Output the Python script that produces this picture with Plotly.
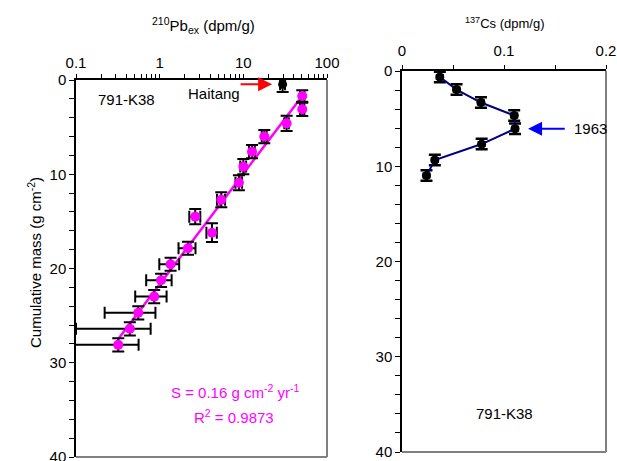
import numpy as np
import plotly.graph_objects as go

W, H = 617, 461

# ---- 210Pb excess data (core 791-K38) ----
pb_mass = [1.70, 3.11, 4.60, 6.00, 7.60, 9.19, 10.9, 12.7, 14.5, 16.2, 17.85,
           19.55, 21.25, 22.98, 24.7, 26.4, 28.1]
pb_act = [50.6, 50.6, 32.9, 17.8, 12.7, 10.0, 8.85, 5.45, 2.66, 4.22, 2.18,
          1.35, 1.04, 0.86, 0.555, 0.44, 0.32]
pb_act_err = [3.0, 3.0, 2.0, 1.2, 1.0, 0.8, 0.8, 0.6, 0.4, 0.6, 0.5,
              0.36, 0.35, 0.35, 0.335, 0.34, 0.24]
pb_mass_err = [0.6, 0.7, 0.8, 0.7, 0.7, 0.8, 0.8, 0.8, 0.8, 1.0, 0.7,
               0.7, 0.7, 0.7, 0.7, 0.7, 0.7]

# Haitang (surface) point
ht_mass = [0.46]
ht_act = [29.5]
ht_act_err = [2.0]
ht_mass_err = [0.8]

# ---- 137Cs data ----
cs_mass = [0.63, 1.95, 3.31, 4.67, 6.06, 7.67, 9.34, 10.98]
cs_act = [0.0371, 0.0535, 0.0774, 0.110, 0.1108, 0.0781, 0.0322, 0.024]
cs_act_err = [0.003, 0.003, 0.003, 0.003, 0.003, 0.003, 0.003, 0.003]
cs_mass_err = [0.55, 0.55, 0.55, 0.55, 0.55, 0.55, 0.55, 0.55]

pb_ticks = [0.1, 1, 10, 100]
depth_ticks = [0, 10, 20, 30, 40]
cs_ticks = [0, 0.1, 0.2]

MAG = "#FF00FF"
FONT = "Liberation Sans, Arial, sans-serif"
FS = 15

# regression of mass on log10(activity)
coef = np.polyfit(np.log10(pb_act), pb_mass, 1)
fit_x = np.logspace(np.log10(min(pb_act)), np.log10(max(pb_act)), 50)
fit_y = np.polyval(coef, np.log10(fit_x))

fig = go.Figure()

fig.add_trace(go.Scatter(x=fit_x, y=fit_y, mode="lines",
                         line=dict(color=MAG, width=2.5),
                         xaxis="x", yaxis="y", showlegend=False))
fig.add_trace(go.Scatter(
    x=pb_act, y=pb_mass, mode="markers",
    marker=dict(color=MAG, size=10),
    error_x=dict(type="data", array=pb_act_err, color="black", thickness=2, width=6),
    error_y=dict(type="data", array=pb_mass_err, color="black", thickness=2, width=6),
    xaxis="x", yaxis="y", showlegend=False))
fig.add_trace(go.Scatter(
    x=ht_act, y=ht_mass, mode="markers",
    marker=dict(color="black", size=9),
    error_x=dict(type="data", array=ht_act_err, color="black", thickness=2, width=6),
    error_y=dict(type="data", array=ht_mass_err, color="black", thickness=2, width=6),
    xaxis="x", yaxis="y", showlegend=False))
fig.add_trace(go.Scatter(
    x=cs_act, y=cs_mass, mode="lines+markers",
    line=dict(color="#00007F", width=2),
    marker=dict(color="black", size=9),
    error_x=dict(type="data", array=cs_act_err, color="black", thickness=2, width=3),
    error_y=dict(type="data", array=cs_mass_err, color="black", thickness=2.5, width=6),
    xaxis="x2", yaxis="y2", showlegend=False))

def px(xp):
    return xp / W
def py(yp):
    return 1 - yp / H

L1, R1, T1, B1 = 76, 327, 80, 457
L2, R2, T2, B2 = 402, 606, 71, 452

minor_log = [m * 10 ** e for e in range(-1, 2) for m in range(2, 10)]
dep_minor = [v for v in range(0, 41, 2) if v not in depth_ticks]
cs_minor = [0.05, 0.15]

axis_common = dict(showline=True, linecolor="black", linewidth=1.5, ticks="outside",
                   tickcolor="black", tickwidth=1.2, showgrid=False, zeroline=False,
                   automargin=False, ticklabeloverflow="allow",
                   tickfont=dict(family=FONT, size=FS, color="black"))

fig.update_layout(
    width=W, height=H, margin=dict(l=0, r=0, t=0, b=0, pad=0),
    paper_bgcolor="white", plot_bgcolor="white",
    font=dict(family=FONT, color="black"),
    xaxis=dict(domain=[px(L1), px(R1)], type="log", range=[-1, 2], side="top",
               anchor="y", tickvals=pb_ticks, ticktext=["0.1", "1", "10", "100"], ticklen=4,
               minor=dict(tickvals=minor_log, ticks="outside", ticklen=4, tickcolor="black",
                          tickwidth=1.2, showgrid=False),
               **axis_common),
    yaxis=dict(domain=[py(B1), py(T1)], range=[40, 0], anchor="x",
               tickvals=depth_ticks, ticklen=5,
               minor=dict(tickvals=dep_minor, ticks="outside", ticklen=5, tickcolor="black",
                          tickwidth=1.2, showgrid=False),
               **axis_common),
    xaxis2=dict(domain=[px(L2), px(R2)], range=[0, 0.2], side="top", anchor="y2",
                tickvals=cs_ticks, ticktext=["0", "0.1", "0.2"], ticklen=4,
                ticklabelstandoff=3,
                minor=dict(tickvals=cs_minor, ticks="outside", ticklen=4, tickcolor="black",
                           tickwidth=1.2, showgrid=False),
                **axis_common),
    yaxis2=dict(domain=[py(B2), py(T2)], range=[40, 0], anchor="x2",
                tickvals=depth_ticks, ticklen=5,
                minor=dict(tickvals=dep_minor, ticks="outside", ticklen=5, tickcolor="black",
                           tickwidth=1.2, showgrid=False),
                **axis_common),
)

for xr, yr in (("x", "y"), ("x2", "y2")):
    fig.add_shape(type="line", xref=xr + " domain", yref=yr + " domain",
                  x0=1, x1=1, y0=0, y1=1, line=dict(color="#808080", width=2))
    fig.add_shape(type="line", xref=xr + " domain", yref=yr + " domain",
                  x0=0, x1=1, y0=0, y1=0, line=dict(color="#808080", width=2))

C = dict(xanchor="center", yanchor="middle", showarrow=False)
ann = []
ann.append(dict(xref="paper", yref="paper", x=px(203), y=py(25),
                text="<sup>210</sup>Pb<sub>ex</sub> (dpm/g)",
                font=dict(size=15, family=FONT, color="black"), **C))
ann.append(dict(xref="paper", yref="paper", x=px(504), y=py(23),
                text="<sup>137</sup>Cs (dpm/g)",
                font=dict(size=13, family=FONT, color="black"), **C))
ann.append(dict(xref="paper", yref="paper", x=px(34), y=py(263), textangle=-90,
                text="Cumulative mass (g cm<sup>-2</sup>)",
                font=dict(size=FS, family=FONT, color="black"), **C))
ann.append(dict(xref="x", yref="y", x=np.log10(0.405), y=2.1, text="791-K38",
                font=dict(size=FS, family=FONT, color="black"), **C))
ann.append(dict(xref="x", yref="y", x=np.log10(4.4), y=1.4, text="Haitang",
                font=dict(size=FS, family=FONT, color="black"), **C))
ann.append(dict(xref="x", yref="y", x=np.log10(22.1), y=0.45, axref="x", ayref="y",
                ax=np.log10(8.9), ay=0.45, text="", showarrow=True, arrowhead=2,
                arrowsize=1.4, arrowwidth=2, arrowcolor="#FF0000"))
ann.append(dict(xref="x", yref="y", x=np.log10(8.0), y=33.1,
                text="S = 0.16 g cm<sup>-2</sup> yr<sup>-1</sup>",
                font=dict(size=FS, family=FONT, color=MAG), **C))
ann.append(dict(xref="x", yref="y", x=np.log10(7.8), y=35.7,
                text="R<sup>2</sup> = 0.9873",
                font=dict(size=FS, family=FONT, color=MAG), **C))
ann.append(dict(xref="x2", yref="y2", x=0.1236, y=6.06, axref="x2", ayref="y2",
                ax=0.161, ay=6.06, text="", showarrow=True, arrowhead=2,
                arrowsize=1.4, arrowwidth=2, arrowcolor="#0000FF"))
ann.append(dict(xref="x2", yref="y2", x=0.185, y=6.06, text="1963",
                font=dict(size=FS, family=FONT, color="black"), **C))
ann.append(dict(xref="x2", yref="y2", x=0.1, y=36.0, text="791-K38",
                font=dict(size=FS, family=FONT, color="black"), **C))
fig.update_layout(annotations=ann)

fig.write_html("out.html", config={"displayModeBar": False},
               post_script="document.body.style.margin='0px';document.body.style.overflow='hidden';")
